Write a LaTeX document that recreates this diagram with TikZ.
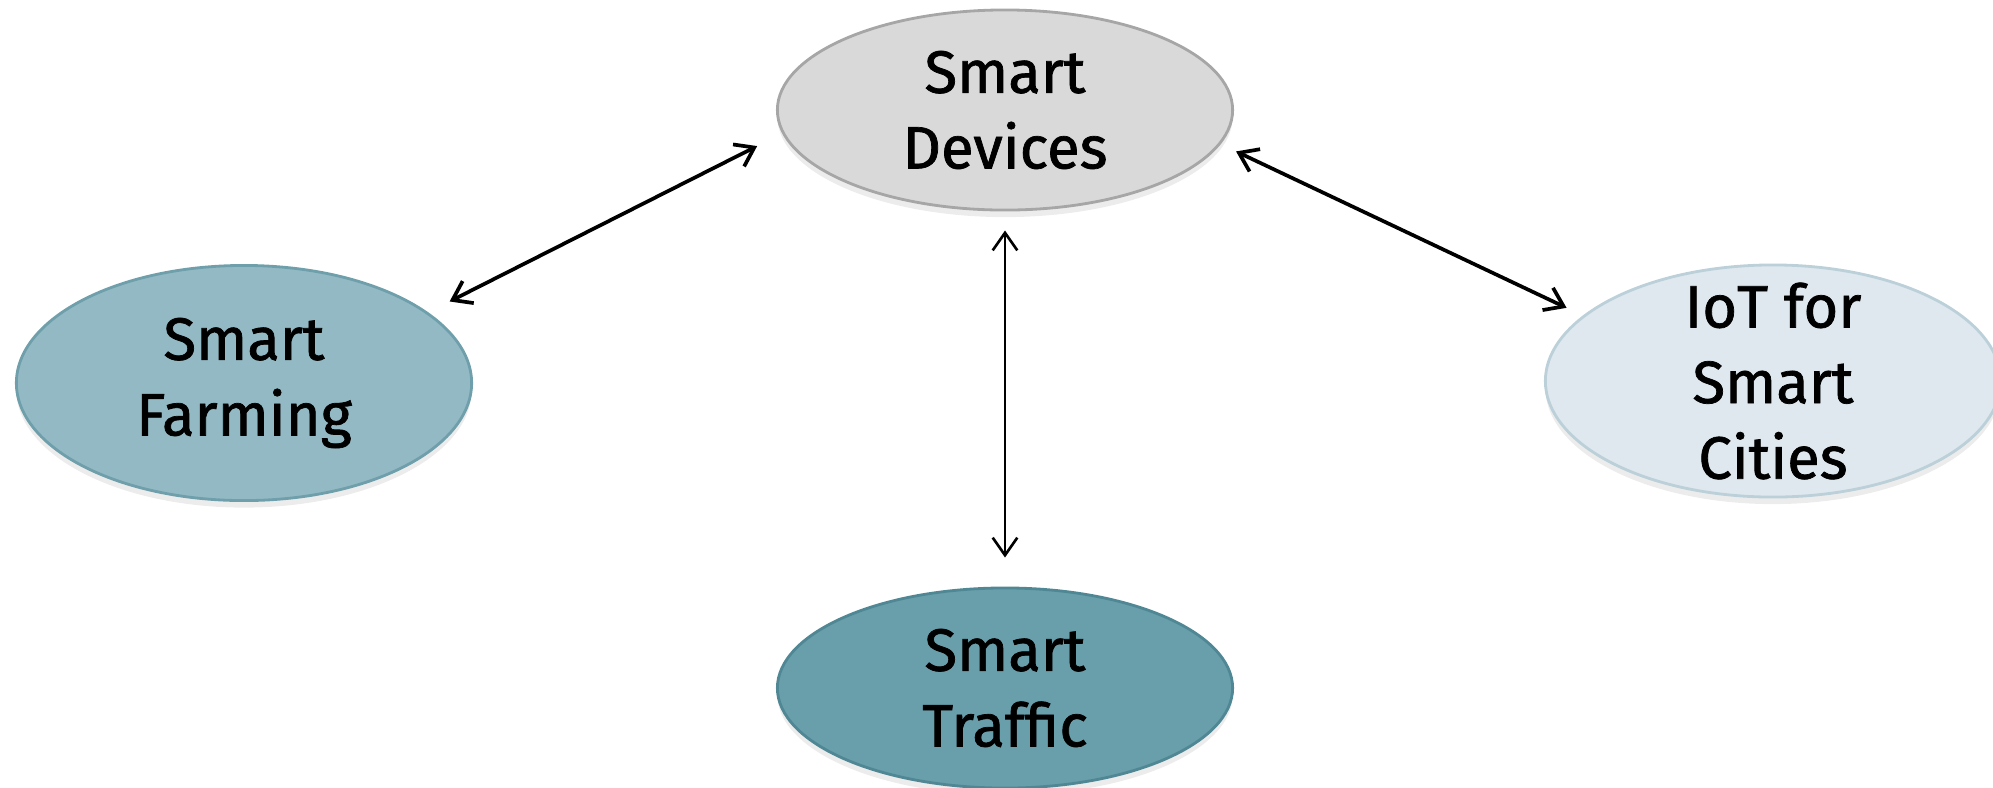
\documentclass[tikz,border=0pt]{standalone}
\usepackage{fontspec}
\setmainfont{Fira Sans}[FakeBold=1.2]
\usetikzlibrary{shapes.geometric,arrows.meta,shadows}
\definecolor{devfill}{HTML}{D9D9D9}
\definecolor{devline}{HTML}{A6A6A6}
\definecolor{farmfill}{HTML}{93BAC4}
\definecolor{farmline}{HTML}{6E9FAB}
\definecolor{iotfill}{HTML}{DEE8EE}
\definecolor{iotline}{HTML}{BCD0D9}
\definecolor{trafficfill}{HTML}{699FAB}
\definecolor{trafficline}{HTML}{4F8794}
\begin{document}
\begin{tikzpicture}[x=0.01cm, y=-0.01cm] % 1 ед. = 1 пиксель, ось y вниз
\tikzstyle{oval} = [ellipse, draw, line width=0.8pt, align=center, inner sep=0pt, minimum width=4.55cm, minimum height=2cm, font=\fontsize{17}{21.5}\selectfont, drop shadow={shadow xshift=0pt, shadow yshift=-2pt, opacity=0.15}] % эллипс с тенью
\tikzstyle{link} = [<->, >={Straight Barb[length=5pt,width=7pt]}, line width=1.05pt] % двойная стрелка
\useasboundingbox (0,0) rectangle (1993,787);
\node[oval, fill=devfill, draw=devline] (dev) at (1005,110) {Smart\\Devices}; % центр
\node[oval, fill=farmfill, draw=farmline, minimum height=2.35cm] (farm) at (244,383) {Smart\\Farming};
\node[oval, fill=iotfill, draw=iotline, minimum height=2.32cm, inner ysep=-8pt] (iot) at (1773,381) {IoT for\\Smart\\Cities};
\node[oval, fill=trafficfill, draw=trafficline] (traffic) at (1005,688) {Smart\\Traffic};
\draw[link, shorten <=0.24cm, shorten >=0.28cm] (farm.21) -- (dev.186);
\draw[link, shorten <=0.17cm, shorten >=0.18cm] (dev.351) -- (iot.161);
\draw[link, line width=0.75pt, shorten <=0.19cm, shorten >=0.29cm] (dev.south) -- (traffic.north);
\end{tikzpicture}
\end{document}
